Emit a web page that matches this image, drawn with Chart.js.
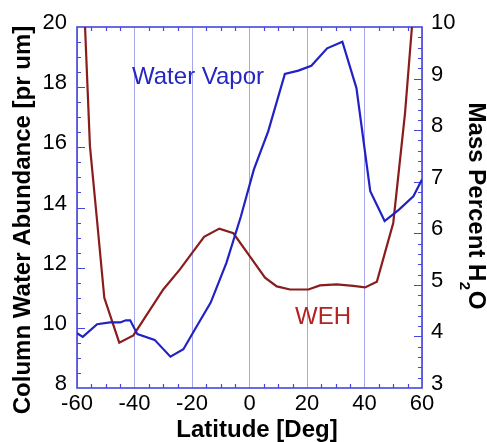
<!DOCTYPE html>
<html>
<head>
<meta charset="utf-8">
<script src="https://cdn.jsdelivr.net/npm/chart.js@4/dist/chart.umd.min.js"></script>
<style>
  html, body { margin: 0; padding: 0; background: #ffffff; }
  #wrap { position: relative; width: 487px; height: 442px; }
</style>
</head>
<body>
<div id="wrap"><canvas id="c" width="487" height="442"></canvas></div>
<script>
// ---- data ----
const vaporLat = [-60, -58, -53, -48.5, -45, -43, -41.5, -39, -33, -27.5, -23, -18.5, -13.5, -8, -3, 1.5, 6.5, 12.3, 17, 21.5, 27, 32.3, 37.2, 42, 47, 52, 57, 60];
const vaporVal = [9.82, 9.70, 10.12, 10.18, 10.18, 10.25, 10.25, 9.79, 9.60, 9.04, 9.29, 10.03, 10.84, 12.17, 13.7, 15.26, 16.53, 18.44, 18.55, 18.71, 19.29, 19.51, 17.97, 14.54, 13.55, 13.93, 14.37, 14.93];

const wehLat = [-57.2, -55.5, -53.2, -50.5, -45.3, -40.4, -30, -24.2, -15.8, -10.5, -5.6, 0, 5.4, 9.5, 14.1, 20.5, 24.5, 30.3, 36.1, 40.2, 44.3, 47.1, 50, 54.1, 56.5];
const wehVal = [10.0, 7.69, 6.35, 4.75, 3.88, 4.02, 4.91, 5.30, 5.93, 6.09, 6.0, 5.56, 5.14, 4.97, 4.91, 4.91, 4.99, 5.01, 4.98, 4.95, 5.06, 5.62, 6.2, 8.33, 10.0];

const xTicks = [-60, -40, -20, 0, 20, 40, 60];
const leftTicks = [8, 10, 12, 14, 16, 18, 20];
const rightTicks = [3, 4, 5, 6, 7, 8, 9, 10];

const seriesNames = ['Water Vapor', 'WEH'];
const xTitle = 'Latitude [Deg]';
const yTitle = 'Column Water Abundance [pr um]';
const y1TitleMain = 'Mass Percent H';
const y1TitleSub = '2';
const y1TitleEnd = 'O';

// ---- styling ----
const FONT = "'Liberation Sans', Arial, Helvetica, sans-serif";
const BLUE = '#2222c4';
const RED = '#8a1c1c';
const FRAME = '#4646dc';
const GRID = '#a6a6ee';

const toPts = (xs, ys) => xs.map((x, i) => ({ x: x, y: ys[i] }));

const decor = {
  id: 'decor',
  beforeDatasetsDraw(chart) {
    const { ctx, chartArea: a, scales } = chart;
    const sx = scales.x, sy = scales.y, sy1 = scales.y1;
    ctx.save();
    ctx.strokeStyle = FRAME;
    ctx.lineWidth = 1.2;
    ctx.beginPath();
    // minor x ticks (every 5 deg), top and bottom
    for (let v = -55; v < 60; v += 5) {
      if (v % 20 === 0) continue;
      const px = Math.round(sx.getPixelForValue(v)) + 0.5;
      ctx.moveTo(px, a.bottom); ctx.lineTo(px, a.bottom - 4);
      ctx.moveTo(px, a.top); ctx.lineTo(px, a.top + 4);
    }
    // left ticks
    for (let v = 8.5; v < 20; v += 0.5) {
      const py = Math.round(sy.getPixelForValue(v)) + 0.5;
      const len = (Math.abs(v % 2) < 1e-6) ? 8 : 4;
      ctx.moveTo(a.left, py); ctx.lineTo(a.left + len, py);
    }
    // right ticks
    for (let i = 1; i < 35; i++) {
      const v = 3 + i * 0.2;
      const py = Math.round(sy1.getPixelForValue(v)) + 0.5;
      const len = (i % 5 === 0) ? 8 : 4;
      ctx.moveTo(a.right, py); ctx.lineTo(a.right - len, py);
    }
    ctx.stroke();
    // frame
    ctx.lineWidth = 1.6;
    ctx.strokeRect(a.left, a.top, a.right - a.left, a.bottom - a.top);
    ctx.restore();
  },
  afterDraw(chart) {
    const { ctx, scales } = chart;
    ctx.save();
    // in-plot labels
    ctx.font = '24px ' + FONT;
    ctx.textBaseline = 'alphabetic';
    ctx.textAlign = 'left';
    ctx.fillStyle = '#2626c0';
    ctx.fillText(seriesNames[0], 132, 84);
    ctx.fillStyle = '#b42222';
    ctx.fillText(seriesNames[1], 295, 324);

    // axis titles
    ctx.fillStyle = '#000';
    ctx.font = 'bold 24px ' + FONT;
    ctx.textAlign = 'center';
    ctx.fillText(xTitle, 257, 437);

    ctx.save();
    ctx.translate(29.5, 220);
    ctx.rotate(-Math.PI / 2);
    ctx.fillText(yTitle, 0, 0);
    ctx.restore();

    ctx.save();
    ctx.translate(469, 206);
    ctx.rotate(Math.PI / 2);
    ctx.textAlign = 'left';
    ctx.font = 'bold 24px ' + FONT;
    const w1 = ctx.measureText(y1TitleMain).width;
    const w3 = ctx.measureText(y1TitleEnd).width;
    ctx.font = 'bold 15px ' + FONT;
    const w2 = ctx.measureText(y1TitleSub).width;
    const total = w1 + w2 + 1 + w3;
    let x0 = -total / 2;
    ctx.font = 'bold 24px ' + FONT;
    ctx.fillText(y1TitleMain, x0, 0);
    ctx.font = 'bold 15px ' + FONT;
    ctx.fillText(y1TitleSub, x0 + w1 + 0.5, 9);
    ctx.font = 'bold 24px ' + FONT;
    ctx.fillText(y1TitleEnd, x0 + w1 + w2 + 1, 0);
    ctx.restore();

    ctx.restore();
  }
};

new Chart(document.getElementById('c'), {
  type: 'line',
  data: {
    datasets: [
      {
        label: seriesNames[0],
        data: toPts(vaporLat, vaporVal),
        yAxisID: 'y',
        borderColor: BLUE,
        borderWidth: 2.2,
        pointRadius: 0,
        tension: 0,
        fill: false
      },
      {
        label: seriesNames[1],
        data: toPts(wehLat, wehVal),
        yAxisID: 'y1',
        borderColor: RED,
        borderWidth: 2.2,
        pointRadius: 0,
        tension: 0,
        fill: false
      }
    ]
  },
  options: {
    responsive: false,
    animation: false,
    devicePixelRatio: 1,
    layout: { padding: { top: 27, left: 0, right: 0, bottom: 0 } },
    plugins: { legend: { display: false }, tooltip: { enabled: false } },
    scales: {
      x: {
        type: 'linear',
        min: -60, max: 60,
        afterBuildTicks: s => { s.ticks = xTicks.map(v => ({ value: v })); },
        ticks: { font: { size: 22, family: FONT }, color: '#000', padding: 3, maxRotation: 0, autoSkip: false },
        grid: { color: GRID, lineWidth: 1, drawTicks: false },
        border: { display: false },
        afterFit: s => { s.height = 54; }
      },
      y: {
        type: 'linear',
        position: 'left',
        min: 8, max: 20,
        afterBuildTicks: s => { s.ticks = leftTicks.map(v => ({ value: v })); },
        ticks: { font: { size: 22, family: FONT }, color: '#000', padding: 10, labelOffset: -4, autoSkip: false },
        grid: { display: false, drawTicks: false },
        border: { display: false },
        afterFit: s => { s.width = 77; }
      },
      y1: {
        type: 'linear',
        position: 'right',
        min: 3, max: 10,
        afterBuildTicks: s => { s.ticks = rightTicks.map(v => ({ value: v })); },
        ticks: { font: { size: 22, family: FONT }, color: '#000', padding: 9, labelOffset: -4, autoSkip: false },
        grid: { display: false, drawTicks: false },
        border: { display: false },
        afterFit: s => { s.width = 65; }
      }
    }
  },
  plugins: [decor]
});
</script>
</body>
</html>
